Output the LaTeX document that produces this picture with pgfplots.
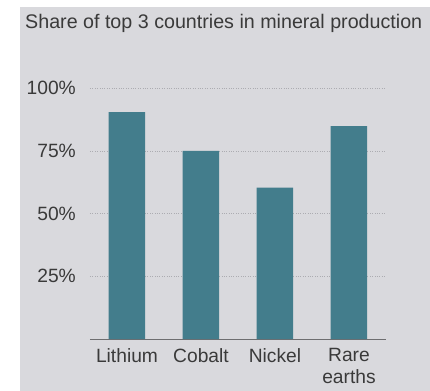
\documentclass[border=0pt]{standalone}
\usepackage{pgfplots}
\pgfplotsset{compat=1.18}
\usepackage{fontspec}
\setmainfont{Liberation Sans}
\definecolor{panel}{RGB}{217,217,221}
\definecolor{barc}{RGB}{67,125,140}
\definecolor{txt}{RGB}{58,58,58}
\definecolor{gridc}{RGB}{172,172,177}
\definecolor{axc}{RGB}{110,110,112}
\begin{document}
\fontsize{19.3}{22.3}\selectfont
\begin{tikzpicture}[x=1bp,y=1bp]
\fill[white] (-90,-52) rectangle (340,339);
\fill[panel] (-70,-52) rectangle (340,332);
\node[anchor=base west, inner sep=0, text=txt, font=\fontsize{19.75}{22}\selectfont] at (-65,311) {Share of top 3 countries in mineral production};
\begin{axis}[
  at={(0,0)}, anchor=south west,
  scale only axis, width=296bp, height=250.7bp,
  xmin=-0.5, xmax=3.5, ymin=0, ymax=100,
  ybar, bar width=36.5bp,
  xtick={0,1,2,3},
  xticklabels={Lithium,Cobalt,Nickel,Rare\\earths},
  ytick={25,50,75,100},
  yticklabels={25\%,50\%,75\%,100\%},
  major tick length=0pt,
  ymajorgrids,
  grid style={gridc, dotted, line width=0.9pt},
  axis x line*=bottom, axis y line*=left,
  x axis line style={-, draw=axc, line width=0.9pt},
  y axis line style={draw=none},
  tick label style={text=txt, font=\fontsize{19.3}{22.3}\selectfont},
  xticklabel style={align=center, anchor=north, inner sep=0pt, yshift=-9bp},
  yticklabel style={anchor=east, inner sep=0pt, xshift=-14bp},
  clip=false,
]
\addplot[fill=barc, draw=none] coordinates {(0,90.5) (1,75) (2,60.4) (3,84.9)};
\end{axis}
\end{tikzpicture}
\end{document}
